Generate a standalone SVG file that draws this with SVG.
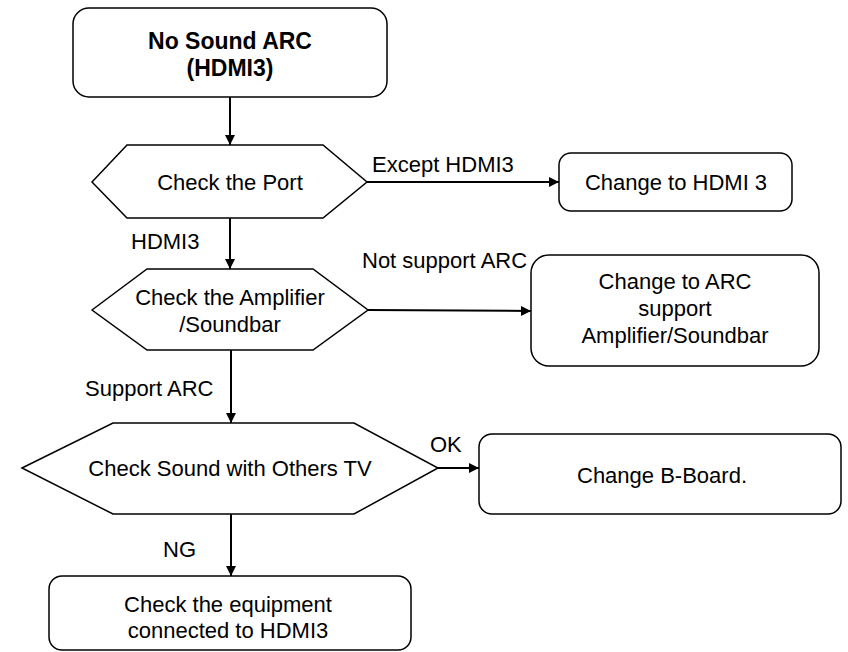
<svg xmlns="http://www.w3.org/2000/svg" width="848" height="652" viewBox="0 0 848 652">
<defs>
<marker id="ah" viewBox="0 0 10 10" refX="10" refY="5" markerWidth="10" markerHeight="10" markerUnits="userSpaceOnUse" orient="auto">
<path d="M0,0 L10,5 L0,10 z" fill="#000"/>
</marker>
<style>
.box{fill:#fff;stroke:#000;stroke-width:1.5}
.t{font-family:"Liberation Sans",Arial,sans-serif;font-size:22px;fill:#000;text-anchor:middle}
.b{font-weight:bold;font-size:23px}
.l{font-family:"Liberation Sans",Arial,sans-serif;font-size:22px;fill:#000}
.c{stroke:#000;stroke-width:2;fill:none;marker-end:url(#ah)}
</style>
</defs>
<rect width="848" height="652" fill="#fff"/>
<g id="connectors">
<line class="c" x1="230" y1="97" x2="230" y2="145"/>
<line class="c" x1="367" y1="182" x2="559" y2="182"/>
<line class="c" x1="230" y1="218" x2="230" y2="269"/>
<line class="c" x1="368" y1="310" x2="531" y2="311"/>
<line class="c" x1="231" y1="350" x2="231" y2="423"/>
<line class="c" x1="438" y1="468" x2="479" y2="468"/>
<line class="c" x1="231" y1="514" x2="231" y2="576"/>
<text class="l" x="372" y="172">Except HDMI3</text>
<text class="l" x="131" y="249">HDMI3</text>
<text class="l" x="362" y="268">Not support ARC</text>
<text class="l" x="85" y="396">Support ARC</text>
<text class="l" x="430" y="452">OK</text>
<text class="l" x="163" y="557">NG</text>
</g>
<g id="start">
<rect class="box" x="73" y="8" width="314" height="89" rx="16"/>
<text class="t b" x="230" y="49">No Sound ARC</text>
<text class="t b" x="230" y="76">(HDMI3)</text>
</g>
<g id="checkPort">
<polygon class="box" points="92,182 127,145 323,145 367,182 323,218 127,218"/>
<text class="t" x="230" y="190">Check the Port</text>
</g>
<g id="changeHdmi3">
<rect class="box" x="559" y="153" width="233" height="58" rx="12"/>
<text class="t" x="676" y="190">Change to HDMI 3</text>
</g>
<g id="checkAmp">
<polygon class="box" points="92,310 147,269 313,269 368,310 313,350 147,350"/>
<text class="t" x="230" y="305">Check the Amplifier</text>
<text class="t" x="230" y="332">/Soundbar</text>
</g>
<g id="changeAmp">
<rect class="box" x="531" y="255" width="288" height="111" rx="18"/>
<text class="t" x="675" y="289">Change to ARC</text>
<text class="t" x="675" y="316">support</text>
<text class="t" x="675" y="343">Amplifier/Soundbar</text>
</g>
<g id="checkSound">
<polygon class="box" points="22,468 113,423 354,423 438,468 354,514 113,514"/>
<text class="t" x="230" y="476">Check Sound with Others TV</text>
</g>
<g id="changeBBoard">
<rect class="box" x="479" y="434" width="362" height="80" rx="13"/>
<text class="t" x="662" y="483">Change B-Board.</text>
</g>
<g id="checkEquipment">
<rect class="box" x="49" y="576" width="362" height="74" rx="13"/>
<text class="t" x="228" y="612">Check the equipment</text>
<text class="t" x="228" y="638">connected to HDMI3</text>
</g>
</svg>
